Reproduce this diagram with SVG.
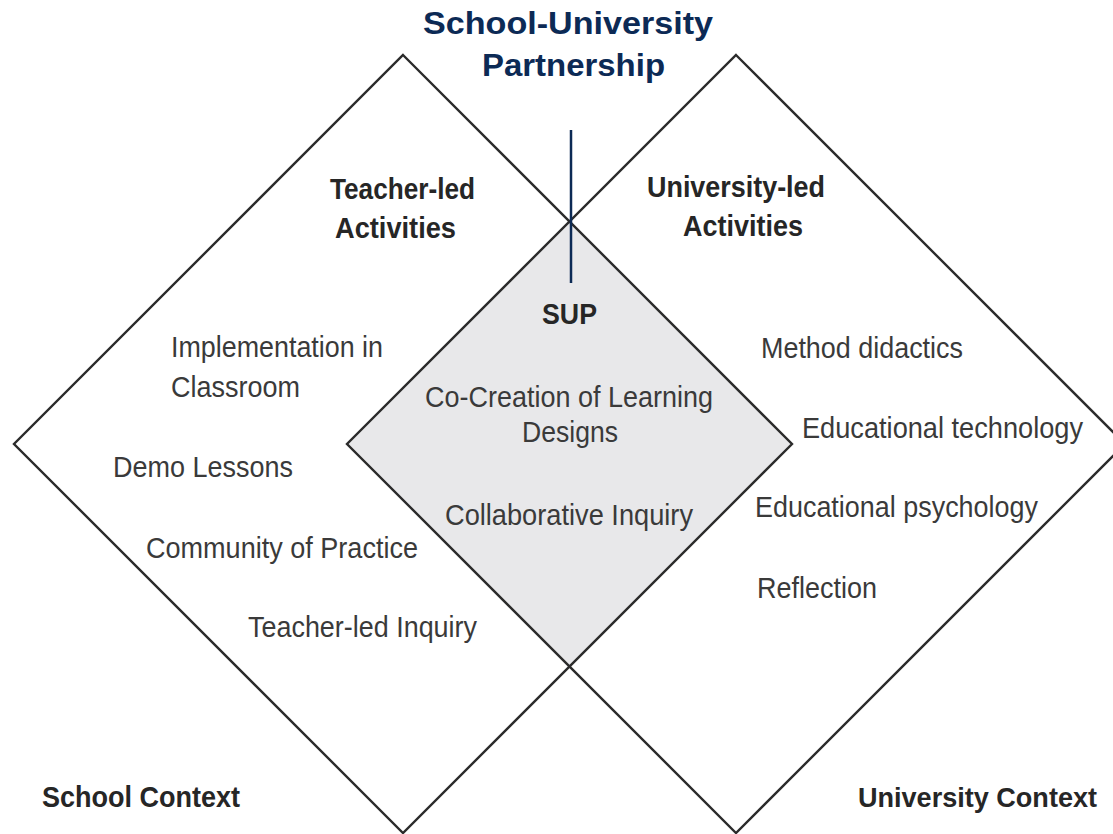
<svg xmlns="http://www.w3.org/2000/svg" width="1113" height="834" viewBox="0 0 1113 834">
<style>
.shape{fill:none;stroke:#2b2b2b;stroke-width:2.4;stroke-linejoin:miter}
.inner{fill:#e8e8ea;stroke:none}
.t{font-family:"Liberation Sans",Arial,sans-serif;font-size:30px;fill:#3a3a3a}
.b{font-family:"Liberation Sans",Arial,sans-serif;font-size:30px;font-weight:bold;fill:#262626}
.title{font-family:"Liberation Sans",Arial,sans-serif;font-size:32px;font-weight:bold;fill:#0c2a55}
</style>
<rect x="0" y="0" width="1113" height="834" fill="#ffffff"/>
<g id="sup-overlap">
<polygon class="inner" points="569.5,221.5 792,444 569.5,666.5 347,444"/>
</g>
<g id="school-context">
<polygon class="shape" points="403,55 792,444 403,833 14,444"/>
<text class="b" x="330" y="199" textLength="145" lengthAdjust="spacingAndGlyphs">Teacher-led</text>
<text class="b" x="335" y="238" textLength="121" lengthAdjust="spacingAndGlyphs">Activities</text>
<text class="t" x="171" y="357" textLength="212" lengthAdjust="spacingAndGlyphs">Implementation in</text>
<text class="t" x="171" y="397" textLength="129" lengthAdjust="spacingAndGlyphs">Classroom</text>
<text class="t" x="113" y="477" textLength="180" lengthAdjust="spacingAndGlyphs">Demo Lessons</text>
<text class="t" x="146" y="558" textLength="272" lengthAdjust="spacingAndGlyphs">Community of Practice</text>
<text class="t" x="248" y="637" textLength="229" lengthAdjust="spacingAndGlyphs">Teacher-led Inquiry</text>
<text class="b" x="42" y="807" textLength="198" lengthAdjust="spacingAndGlyphs">School Context</text>
</g>
<g id="university-context">
<polygon class="shape" points="736,55 1125,444 736,833 347,444"/>
<text class="b" x="647" y="197" textLength="178" lengthAdjust="spacingAndGlyphs">University-led</text>
<text class="b" x="683" y="236" textLength="120" lengthAdjust="spacingAndGlyphs">Activities</text>
<text class="t" x="761" y="358" textLength="202" lengthAdjust="spacingAndGlyphs">Method didactics</text>
<text class="t" x="802" y="438" textLength="281" lengthAdjust="spacingAndGlyphs">Educational technology</text>
<text class="t" x="755" y="517" textLength="283" lengthAdjust="spacingAndGlyphs">Educational psychology</text>
<text class="t" x="757" y="598" textLength="120" lengthAdjust="spacingAndGlyphs">Reflection</text>
<text class="b" x="858" y="807" style="font-size:27px" textLength="239" lengthAdjust="spacingAndGlyphs">University Context</text>
</g>
<g id="sup">
<text class="b" x="542" y="324" textLength="55" lengthAdjust="spacingAndGlyphs">SUP</text>
<text class="t" x="425" y="407" textLength="288" lengthAdjust="spacingAndGlyphs">Co-Creation of Learning</text>
<text class="t" x="522" y="442" textLength="96" lengthAdjust="spacingAndGlyphs">Designs</text>
<text class="t" x="445" y="525" textLength="248" lengthAdjust="spacingAndGlyphs">Collaborative Inquiry</text>
</g>
<g id="title">
<text class="title" x="423" y="34" textLength="290" lengthAdjust="spacingAndGlyphs">School-University</text>
<text class="title" x="482" y="76" textLength="183" lengthAdjust="spacingAndGlyphs">Partnership</text>
</g>
<g id="connectors">
<line x1="571" y1="130" x2="571" y2="283" stroke="#0c2a55" stroke-width="2.5"/>
</g>
</svg>
